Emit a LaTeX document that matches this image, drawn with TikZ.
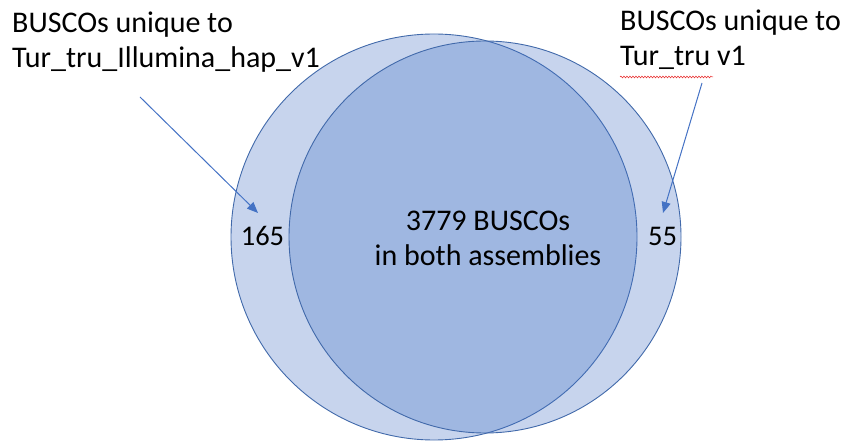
\documentclass[tikz,border=0pt]{standalone}
\usepackage{fontspec}
\setmainfont{Carlito}
\usetikzlibrary{arrows.meta,decorations.pathmorphing}
\definecolor{setfill}{HTML}{4472C4}
\definecolor{setedge}{RGB}{65,105,170}
\definecolor{arrowblue}{HTML}{4472C4}
\definecolor{spellred}{RGB}{230,30,30}
\tikzset{
  setcircle/.style={draw=setedge,line width=0.9pt,fill=setfill,fill opacity=0.3,draw opacity=1},
  labeltext/.style={inner sep=0pt,align=left,anchor=north west,font=\fontsize{30}{35}\selectfont},
  bigtext/.style={inner sep=0pt,font=\fontsize{30}{35}\selectfont},
  numtext/.style={inner sep=0pt,font=\fontsize{28.5}{34}\selectfont},
  pointer/.style={draw=arrowblue,line width=1pt,-{Triangle[length=11pt,width=9pt]}},
}
\begin{document}
\begin{tikzpicture}[x=1pt,y=-1pt]
\useasboundingbox (0,0) rectangle (845,443);
% circles
\path[setcircle] (434,237) circle[radius=203];
\path[setcircle] (485,237) circle[radius=196];
% labels
\node[labeltext] (leftlab) at (12,11.7) {BUSCOs unique to\\Tur\_tru\_Illumina\_hap\_v1};
\node[labeltext] (rightlab) at (620,10) {BUSCOs unique to\\Tur\_tru v1};
\node[bigtext,align=center,anchor=north] (both) at (488,210.5) {3779 BUSCOs\\in both assemblies};
\node[numtext,anchor=base] (n165) at (262.5,246) {165};
\node[numtext,anchor=base] (n55) at (662.5,246) {55};
% spell-check squiggle
\coordinate (sqa) at (620,77);
\coordinate (sqb) at (713,77);
\draw[spellred,line width=0.5pt,decorate,decoration={snake,amplitude=0.9pt,segment length=3pt}] (sqa) -- (sqb);
% pointers
\coordinate (la) at (140,97);
\coordinate (lb) at (258,213);
\coordinate (ra) at (702,83);
\coordinate (rb) at (663,213);
\draw[pointer] (la) -- (lb);
\draw[pointer] (ra) -- (rb);
\end{tikzpicture}
\end{document}
